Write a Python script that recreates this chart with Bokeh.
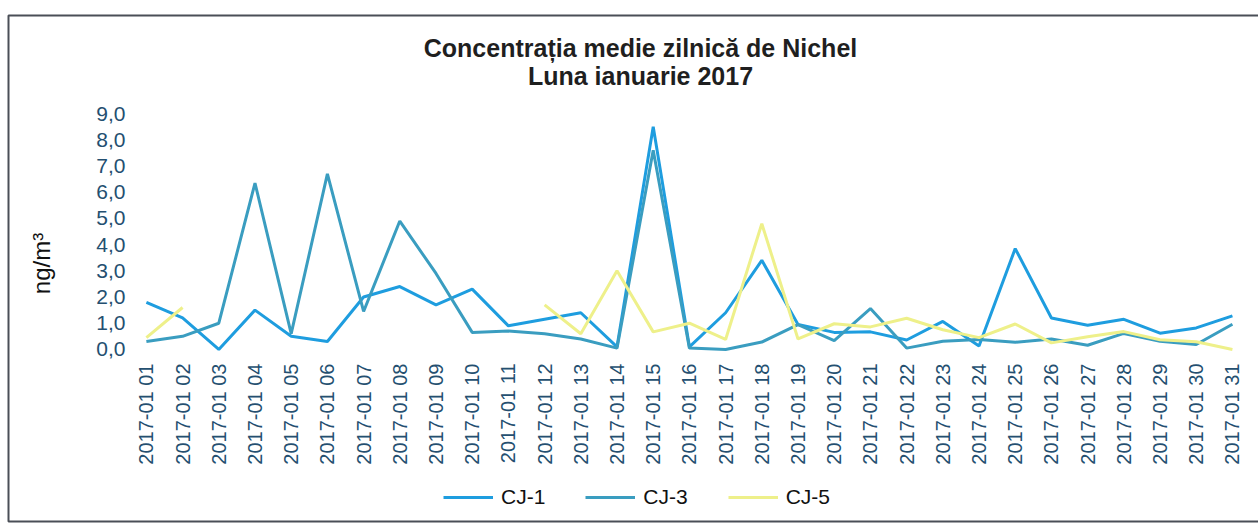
import numpy as np
import math
from bokeh.plotting import figure
from bokeh.models import (Range1d, FixedTicker, Label, Legend, LegendItem,
                          ColumnDataSource, BoxAnnotation)
from bokeh.embed import file_html
from bokeh.resources import INLINE

# ---- data ----
days = [1, 2, 3, 4, 5, 6, 7, 8, 9, 10, 11, 12, 13, 14, 15, 16,
        17, 18, 19, 20, 21, 22, 23, 24, 25, 26, 27, 28, 29, 30, 31]
dates = ["2017-01 01", "2017-01 02", "2017-01 03", "2017-01 04", "2017-01 05",
         "2017-01 06", "2017-01 07", "2017-01 08", "2017-01 09", "2017-01 10",
         "2017-01 11", "2017-01 12", "2017-01 13", "2017-01 14", "2017-01 15",
         "2017-01 16", "2017-01 17", "2017-01 18", "2017-01 19", "2017-01 20",
         "2017-01 21", "2017-01 22", "2017-01 23", "2017-01 24", "2017-01 25",
         "2017-01 26", "2017-01 27", "2017-01 28", "2017-01 29", "2017-01 30",
         "2017-01 31"]

cj1 = [1.8, 1.2, 0.0, 1.5, 0.5, 0.3, 2.0, 2.4, 1.7, 2.3,
       0.9, 1.15, 1.4, 0.1, 8.5, 0.1, 1.4, 3.4, 0.95, 0.65,
       0.67, 0.36, 1.07, 0.13, 3.85, 1.2, 0.92, 1.15, 0.62, 0.82,
       1.28]

cj3 = [0.3, 0.5, 1.0, 6.35, 0.6, 6.7, 1.45, 4.9, 2.9, 0.65,
       0.7, 0.6, 0.4, 0.05, 7.6, 0.05, 0.0, 0.28, 0.95, 0.34,
       1.56, 0.05, 0.31, 0.38, 0.27, 0.4, 0.16, 0.61, 0.31, 0.19,
       0.96]

nan = float("nan")
cj5 = [0.45, 1.6, nan, nan, nan, nan, nan, nan, nan, nan,
       nan, 1.7, 0.6, 3.0, 0.67, 1.0, 0.38, 4.8, 0.4, 0.98,
       0.86, 1.19, 0.75, 0.45, 0.97, 0.25, 0.48, 0.68, 0.37, 0.29,
       0.0]

series_names = ["CJ-1", "CJ-3", "CJ-5"]
y_ticks = [0, 1, 2, 3, 4, 5, 6, 7, 8, 9]
y_tick_labels = ["0,0", "1,0", "2,0", "3,0", "4,0", "5,0", "6,0", "7,0", "8,0", "9,0"]

title_1 = "Concentrația medie zilnică de Nichel"
title_2 = "Luna ianuarie 2017"

FONT = "Liberation Sans"
W, H = 1258, 526

src = ColumnDataSource(dict(
    x=np.array(days, dtype=float),
    cj1=np.array(cj1, dtype=float),
    cj3=np.array(cj3, dtype=float),
    cj5=np.array(cj5, dtype=float),
))

# frame covers the whole canvas; the axes draw their labels inwards
p = figure(x_range=Range1d(-3.03, 31.72), y_range=Range1d(-6.76, 13.32),
           width=W, height=H, output_backend="svg", toolbar_location=None,
           min_border_left=0, min_border_right=0, min_border_top=0,
           min_border_bottom=0, title=None)

p.outline_line_color = None
p.xgrid.visible = False
p.ygrid.visible = False
p.background_fill_color = "white"
p.border_fill_color = "white"

xa = p.xaxis[0]
xa.ticker = FixedTicker(ticks=days)
xa.major_label_overrides = {d: lab for d, lab in zip(days, dates)}
xa.axis_line_color = None
xa.major_tick_line_color = None
xa.minor_tick_line_color = None
xa.major_tick_out = 0
xa.major_tick_in = 0
xa.major_label_orientation = math.pi / 2
xa.major_label_standoff = -163
xa.major_label_text_font = FONT
xa.major_label_text_font_size = "20px"
xa.major_label_text_color = "#244f70"

ya = p.yaxis[0]
ya.ticker = FixedTicker(ticks=y_ticks)
ya.major_label_overrides = {t: lab for t, lab in zip(y_ticks, y_tick_labels)}
ya.axis_line_color = None
ya.major_tick_line_color = None
ya.minor_tick_line_color = None
ya.major_tick_out = 0
ya.major_tick_in = 0
ya.major_label_standoff = -125
ya.major_label_text_font = FONT
ya.major_label_text_font_size = "21px"
ya.major_label_text_color = "#244f70"
ya.axis_label = "ng/m³"
ya.axis_label_text_font = FONT
ya.axis_label_text_font_size = "24px"
ya.axis_label_text_font_style = "normal"
ya.axis_label_text_color = "#111111"
ya.axis_label_standoff = 38

r1 = p.line("x", "cj1", source=src, line_color="#1e9ddf", line_width=3)
r3 = p.line("x", "cj3", source=src, line_color="#3a9dc0", line_width=3)
r5 = p.line("x", "cj5", source=src, line_color="#eef08a", line_width=3)

legend = Legend(items=[LegendItem(label=series_names[0], renderers=[r1]),
                       LegendItem(label=series_names[1], renderers=[r3]),
                       LegendItem(label=series_names[2], renderers=[r5])],
                orientation="horizontal", location=(443, 17),
                background_fill_alpha=0, border_line_color=None,
                label_text_font=FONT, label_text_font_size="21px",
                label_text_color="#111111",
                glyph_width=50, label_standoff=8, spacing=40,
                padding=0, margin=0)
p.add_layout(legend)

p.add_layout(Label(x=640, y=H - 47, x_units="screen", y_units="screen",
                   text=title_1, text_align="center", text_baseline="middle",
                   text_font=FONT, text_font_size="25px", text_font_style="bold",
                   text_color="#1f1f1f"))
p.add_layout(Label(x=640, y=H - 75, x_units="screen", y_units="screen",
                   text=title_2, text_align="center", text_baseline="middle",
                   text_font=FONT, text_font_size="25px", text_font_style="bold",
                   text_color="#1f1f1f"))

# chart-area border
p.add_layout(BoxAnnotation(left=8, right=W + 60, top=H - 15, bottom=H - 521,
                           left_units="screen", right_units="screen",
                           top_units="screen", bottom_units="screen",
                           fill_alpha=0, line_color="#4a4f57", line_alpha=1.0,
                           line_width=2))

open("out.html", "w").write(file_html(p, INLINE))
